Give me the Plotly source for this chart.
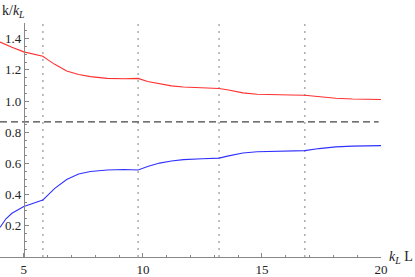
import plotly.graph_objects as go

x_vals = [4, 4.25, 4.5, 5, 5.4, 5.8, 6.0, 6.3, 6.8, 7.3, 7.8, 8.5, 9.2, 9.8, 10.2, 10.7, 11.2, 11.7,
          12.5, 13.2, 13.6, 14.2, 14.8, 15.5, 16.2, 16.8, 17.4, 18.1, 18.8, 19.5, 20]
red_vals = [1.378, 1.36, 1.345, 1.315, 1.30, 1.287, 1.265, 1.235, 1.192, 1.170, 1.156, 1.145, 1.143,
            1.145, 1.125, 1.109, 1.097, 1.090, 1.084, 1.080, 1.070, 1.052, 1.043, 1.039, 1.038, 1.037,
            1.028, 1.018, 1.013, 1.011, 1.010]
blue_vals = [0.19, 0.245, 0.28, 0.324, 0.345, 0.366, 0.395, 0.44, 0.497, 0.532, 0.548, 0.558, 0.561,
             0.558, 0.58, 0.602, 0.615, 0.624, 0.630, 0.634, 0.648, 0.667, 0.675, 0.679, 0.681, 0.682,
             0.695, 0.706, 0.711, 0.713, 0.714]
boundaries = [5.8, 9.8, 13.2, 16.8]
ref_level = 0.866
ref_x = [4, 19.9]
x_ticks = [5, 10, 15, 20]
y_ticks = [0.2, 0.4, 0.6, 0.8, 1.0, 1.2, 1.4]
y_tick_text = ["0.2", "0.4", "0.6", "0.8", "1.0", "1.2", "1.4"]

SERIF = "Liberation Serif, Times New Roman, DejaVu Serif, serif"

fig = go.Figure()
for b in boundaries:
    fig.add_trace(go.Scatter(x=[b, b], y=[0, 1.5], mode="lines",
                             line=dict(color="#b0b0b0", width=1.6, dash="2px,5px"),
                             showlegend=False, hoverinfo="skip"))
fig.add_trace(go.Scatter(x=ref_x, y=[ref_level, ref_level], mode="lines",
                         line=dict(color="#444444", width=1.2, dash="7px,4px"),
                         showlegend=False))
fig.add_trace(go.Scatter(x=x_vals, y=red_vals, mode="lines",
                         line=dict(color="#ff3030", width=1.1), showlegend=False))
fig.add_trace(go.Scatter(x=x_vals, y=blue_vals, mode="lines",
                         line=dict(color="#3030ff", width=1.1), showlegend=False))

font = dict(family=SERIF, size=13, color="#222222")
fig.update_layout(
    width=415, height=277,
    margin=dict(l=0, r=34, t=23, b=18),
    paper_bgcolor="white", plot_bgcolor="white",
    font=font,
    xaxis=dict(range=[4, 20], showgrid=False, zeroline=False,
               showline=True, linecolor="#888888", linewidth=1,
               tickmode="array", tickvals=x_ticks, ticks="inside", ticklen=4,
               tickcolor="#888888", tickfont=font,
               minor=dict(tickmode="linear", tick0=0, dtick=1, ticks="inside",
                          ticklen=2.5, tickcolor="#888888")),
    yaxis=dict(range=[0, 1.5], showgrid=False, zeroline=False,
               anchor="free", position=1 / 16,
               showline=True, linecolor="#888888", linewidth=1,
               tickmode="array", tickvals=y_ticks, ticktext=y_tick_text,
               ticks="inside", ticklen=4, tickcolor="#888888", tickfont=font,
               minor=dict(tickmode="linear", tick0=0, dtick=0.05, ticks="inside",
                          ticklen=2.5, tickcolor="#888888")),
    annotations=[
        dict(text="k/<i>k</i><sub><i>L</i></sub>", xref="paper", yref="paper",
             x=0, y=1, xanchor="left", yanchor="bottom", showarrow=False,
             font=dict(family=SERIF, size=14, color="#222222"), yshift=1),
        dict(text="<i>k</i><sub><i>L</i></sub> L", xref="paper", yref="paper",
             x=1, y=0, xanchor="left", yanchor="middle", showarrow=False,
             font=dict(family=SERIF, size=14, color="#222222"), xshift=6),
    ],
)
fig.write_html("out.html", config={"displayModeBar": False},
               post_script="document.body.style.margin='0';document.body.style.padding='0';")
